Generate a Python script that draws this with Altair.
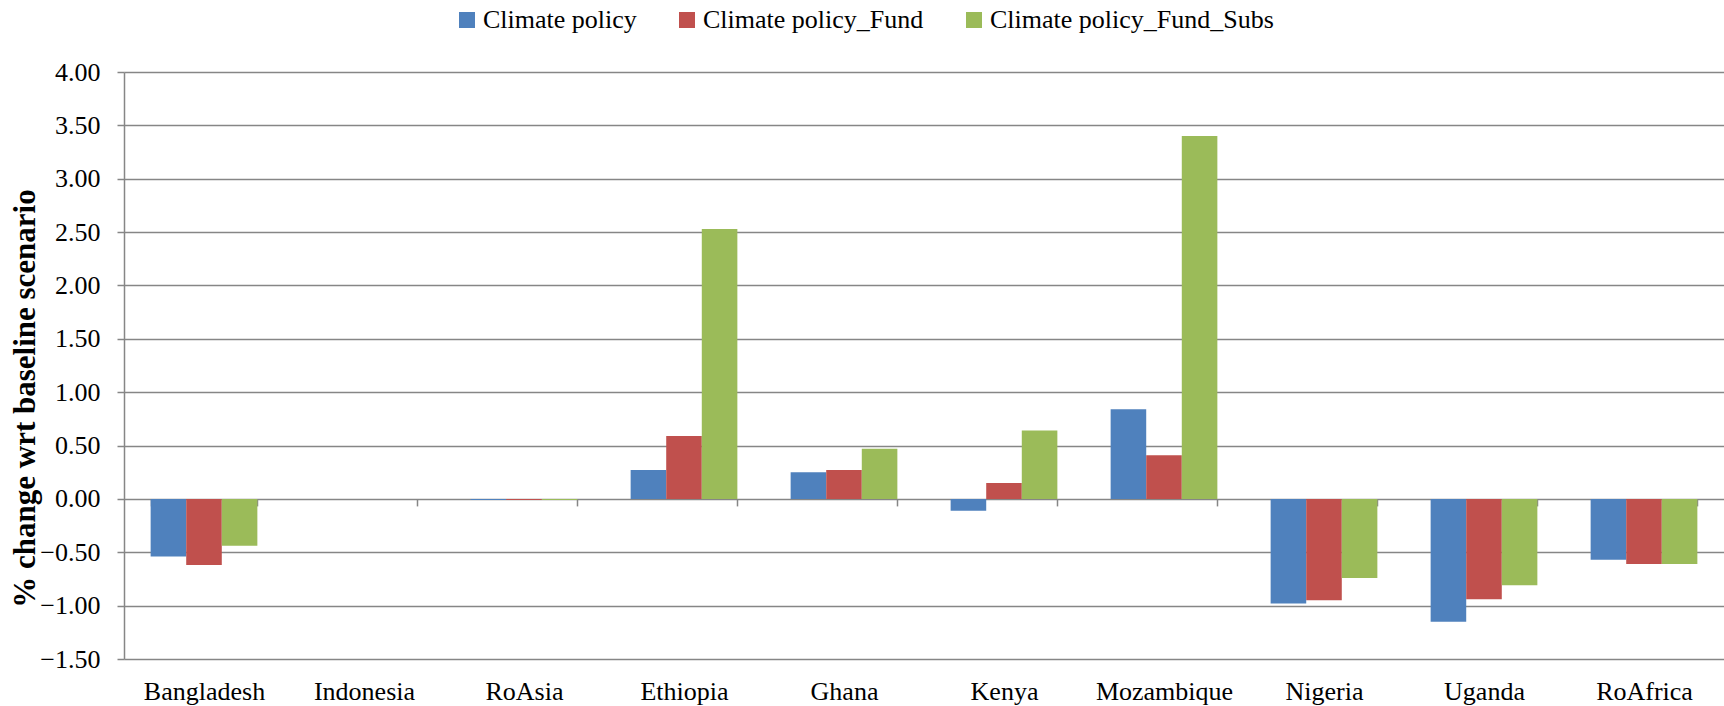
import altair as alt
import pandas as pd

countries = ["Bangladesh", "Indonesia", "RoAsia", "Ethiopia", "Ghana", "Kenya",
             "Mozambique", "Nigeria", "Uganda", "RoAfrica"]
scenarios = ["Climate policy", "Climate policy_Fund", "Climate policy_Fund_Subs"]
colors = ["#4F81BD", "#C0504D", "#9BBB59"]

climate_policy = [-0.54, 0.00, -0.01, 0.27, 0.25, -0.11, 0.84, -0.98, -1.15, -0.57]
climate_policy_fund = [-0.62, 0.00, -0.01, 0.59, 0.27, 0.15, 0.41, -0.95, -0.94, -0.61]
climate_policy_fund_subs = [-0.44, 0.00, -0.01, 2.53, 0.47, 0.64, 3.40, -0.74, -0.81, -0.61]

y_ticks = [-1.5, -1.0, -0.5, 0.0, 0.5, 1.0, 1.5, 2.0, 2.5, 3.0, 3.5, 4.0]

rows = []
for name, vals in zip(scenarios, [climate_policy, climate_policy_fund, climate_policy_fund_subs]):
    for c, v in zip(countries, vals):
        rows.append({"country": c, "scenario": name, "value": v})
df = pd.DataFrame(rows)

FONT = "Liberation Serif"
GRID = "#868686"
W, H = 1600, 587
YMIN, YMAX = -1.5, 4.0
ZERO_OFF = H * (0 - YMIN) / (YMAX - YMIN)  # distance of the zero line above the bottom

chart = alt.Chart(df).mark_bar().encode(
    x=alt.X("country:N", sort=countries,
            scale=alt.Scale(paddingInner=0.333, paddingOuter=0.1665),
            axis=alt.Axis(title=None, labelAngle=0, domain=False,
                          orient="bottom", offset=-ZERO_OFF,
                          ticks=True, tickBand="extent", tickSize=7,
                          tickColor=GRID, tickWidth=1.5,
                          labelFont=FONT, labelFontSize=26, labelColor="black",
                          labelPadding=ZERO_OFF - 7 + 19, grid=False)),
    xOffset=alt.XOffset("scenario:N", sort=scenarios,
                        scale=alt.Scale(paddingInner=0, paddingOuter=0)),
    y=alt.Y("value:Q", scale=alt.Scale(domain=[YMIN, YMAX], nice=False, zero=False),
            axis=alt.Axis(values=y_ticks, format=".2f", grid=True, gridColor=GRID,
                          gridWidth=1.5, domain=True, domainColor=GRID, domainWidth=1.5,
                          ticks=True, tickSize=7, tickColor=GRID, tickWidth=1.5,
                          labelFont=FONT, labelFontSize=26, labelColor="black",
                          labelPadding=17,
                          title="% change wrt baseline scenario",
                          titleFont=FONT, titleFontSize=31, titleFontWeight="bold",
                          titleColor="black", titleAngle=270, titleX=-99, titleY=326,
                          titleAlign="center", titleBaseline="middle")),
    color=alt.Color("scenario:N", sort=scenarios,
                    scale=alt.Scale(domain=scenarios, range=colors),
                    legend=alt.Legend(title=None, orient="none", direction="horizontal",
                                      legendX=330, legendY=-65, padding=0,
                                      symbolType="square", symbolSize=256,
                                      symbolStrokeWidth=0, labelLimit=0,
                                      labelFont=FONT, labelFontSize=26,
                                      labelColor="black", labelOffset=3,
                                      columnPadding=37)),
).properties(
    width=W, height=H,
    autosize=alt.AutoSizeParams(type="none"),
    padding={"left": 124, "top": 72, "right": 0, "bottom": 47},
    background="white",
).configure(font=FONT).configure_axis(
    labelFont=FONT, titleFont=FONT
).configure_legend(labelFont=FONT).configure_view(stroke=None)

chart.save("out.html", embed_options={"renderer": "svg", "actions": False})
